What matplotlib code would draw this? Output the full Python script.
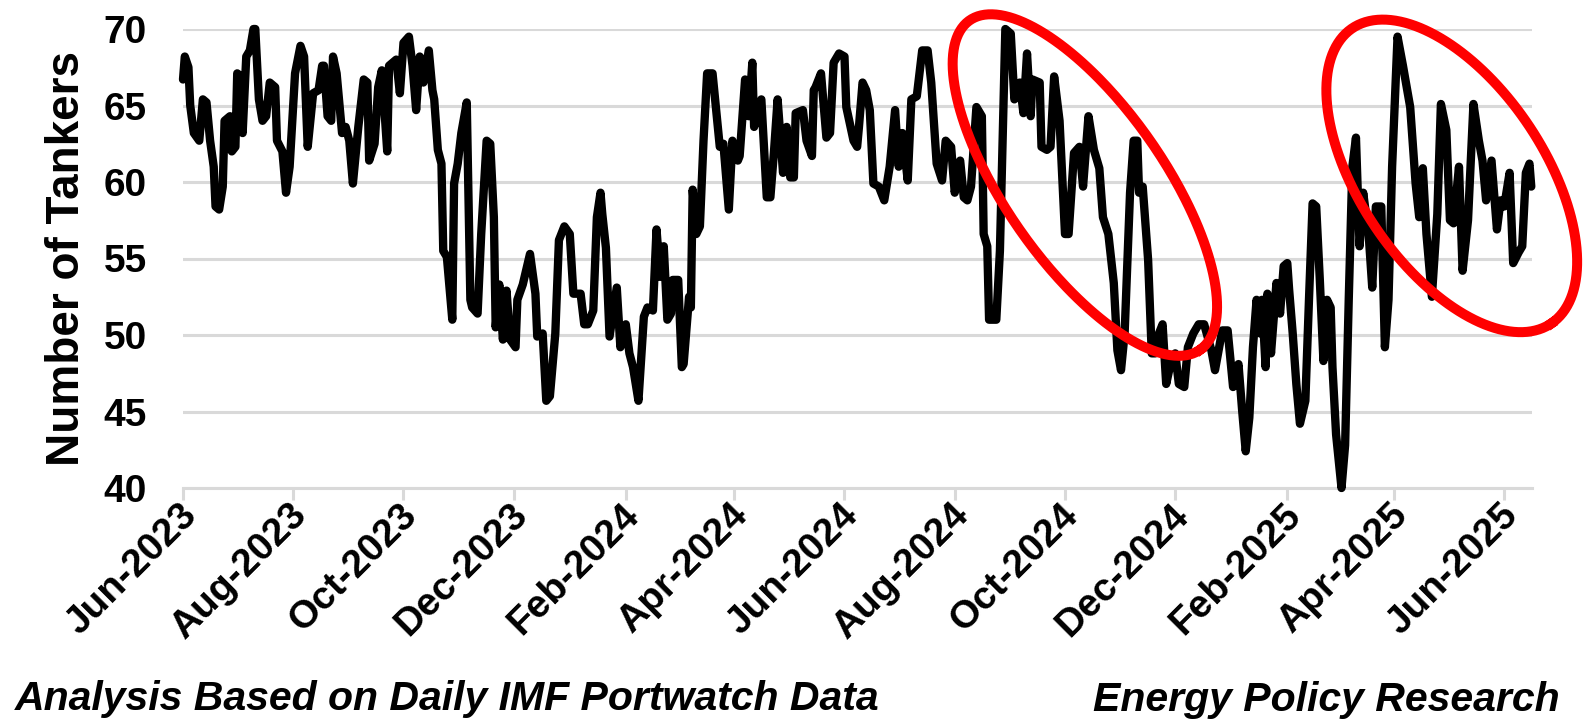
import matplotlib
matplotlib.use("Agg")
import matplotlib.dates as mdates
import matplotlib.pyplot as plt
import matplotlib.transforms as mtransforms
import numpy as np
import pandas as pd

plt.rcParams["font.family"] = ["Liberation Sans", "DejaVu Sans"]
plt.rcParams["font.weight"] = "bold"
plt.rcParams["axes.labelweight"] = "bold"

START = pd.Timestamp("2023-06-01")

# daily tanker counts (day offsets from 1 Jun 2023)
days = [
    0, 1, 3, 4, 6, 9, 11, 13, 15, 17, 18, 20, 22, 23, 26, 27, 29, 30, 32, 33,
    35, 37, 39, 40, 42, 44, 46, 48, 51, 52, 55, 57, 59, 62, 65, 67, 69, 72, 75, 77,
    78, 80, 82, 83, 85, 88, 90, 92, 94, 97, 100, 102, 103, 106, 108, 110, 113, 114, 118, 120,
    122,
    125, 127, 129, 131, 133, 136, 138, 139, 141, 143, 144, 146, 149, 150, 152, 154, 157, 159, 160, 163,
    165, 168, 170, 172, 173, 175, 177, 179, 181, 184, 185, 188, 192, 195, 196, 199, 201, 203, 206, 208,
    211, 214, 216, 220, 222, 224, 227, 229, 231, 232, 234, 236, 240, 242, 245, 247, 249, 252,
    255, 257, 260, 262, 264, 266, 268, 270, 271, 274, 276, 277, 280, 281, 282, 284, 286, 288, 290, 293,
    295, 297, 299, 302, 304, 307, 308, 311, 313, 315, 316, 320, 323, 325, 327, 329, 332, 334, 336, 338,
    339, 343, 345, 348, 349, 350, 353, 356, 358, 360, 363, 366, 367, 371, 373, 374, 376, 378,
    380, 382, 385, 388, 391, 394, 396, 398, 401, 403, 406, 409, 412, 414, 417, 420, 422, 425, 427, 430,
    432, 434, 436, 439, 442, 443, 445, 446, 450, 452, 455, 458, 460, 463, 465, 467, 469, 470, 474, 475,
    478, 480, 482, 485, 488, 490, 493, 496, 498,
    501, 504, 507, 509, 512, 515, 517, 519, 521, 524, 526, 528, 529, 531, 534, 536, 538, 540, 542, 544,
    546, 549, 551, 554, 556, 559, 562, 565, 569, 571, 573, 575, 578, 581, 584, 586, 588, 590, 592, 594,
    596, 597, 599, 600, 602, 605, 607, 609, 611, 612, 614, 616, 618, 621, 623, 625, 627, 629,
    631, 633, 635, 636, 638, 641, 643, 645, 647, 649, 651, 653, 656, 658, 660, 663, 665, 667, 669, 672,
    675, 679, 682, 684, 686, 688, 691, 694, 696, 699, 701, 703, 706, 708, 711, 714, 717, 719, 721, 724,
    727, 729, 731, 734, 736, 739, 741, 743, 745, 746,
]
tankers = [
    66.7, 68.2, 67.5, 65.0, 63.2, 62.7, 65.4, 65.2, 62.7, 61.0, 58.4, 58.2, 59.7, 64.0, 64.3, 62.0, 62.3, 67.1, 66.9, 63.2,
    68.2, 68.6, 70.0, 70.0, 65.4, 64.0, 64.3, 66.5, 66.2, 62.7, 62.0, 59.3, 61.0, 67.1, 68.9, 68.2, 62.3, 65.8, 66.0, 67.6,
    67.6, 64.3, 64.0, 68.2, 67.1, 63.2, 63.6, 62.7, 59.9, 63.6, 66.7, 66.5, 61.4, 62.5, 66.2, 67.3, 62.0, 67.6, 68.0, 65.8,
    69.1,
    69.5, 67.6, 64.7, 68.2, 66.5, 68.6, 66.0, 65.4, 62.1, 61.2, 55.5, 55.1, 51.0, 59.9, 61.2, 63.2, 65.2, 52.3, 51.8, 51.4,
    56.6, 62.7, 62.5, 57.7, 50.5, 53.3, 49.7, 52.9, 49.7, 49.2, 52.3, 53.3, 55.3, 52.7, 49.9, 50.1, 45.7, 46.0, 50.1, 56.2,
    57.1, 56.6, 52.7, 52.7, 50.7, 50.7, 51.6, 57.7, 59.3, 57.9, 55.7, 49.9, 53.1, 49.2, 50.7, 48.8, 47.9, 45.7,
    51.2, 51.8, 51.6, 56.9, 53.8, 55.8, 51.0, 51.4, 53.6, 53.6, 47.9, 48.1, 52.5, 51.8, 59.5, 56.6, 57.1, 62.7, 67.1, 67.1,
    64.7, 62.3, 62.5, 58.2, 62.7, 61.4, 61.7, 66.7, 64.3, 67.8, 63.6, 65.4, 59.0, 59.0, 62.0, 65.4, 60.6, 63.6, 60.3, 60.3,
    64.5, 64.7, 62.7, 61.7, 66.0, 66.2, 67.1, 62.9, 63.2, 67.8, 68.4, 68.2, 64.9, 62.7, 62.3, 63.6, 66.5, 66.0,
    64.7, 59.9, 59.7, 58.8, 61.0, 64.7, 61.0, 63.2, 60.1, 65.4, 65.6, 68.6, 68.6, 66.5, 61.2, 60.1, 62.7, 62.3, 59.3, 61.4,
    59.0, 58.8, 59.7, 64.9, 64.3, 56.6, 55.8, 51.0, 51.0, 55.5, 70.0, 69.7, 65.4, 66.5, 64.5, 68.4, 64.3, 66.7, 66.5, 62.3,
    62.1, 62.3, 66.9, 64.0, 56.6, 56.6, 61.9, 62.3, 59.7,
    64.3, 62.1, 60.9, 57.7, 56.6, 53.4, 49.0, 47.7, 50.1, 59.3, 62.7, 62.7, 59.3, 59.7, 54.9, 48.8, 48.8, 50.1, 50.7, 46.8,
    47.9, 48.8, 46.8, 46.6, 49.2, 50.1, 50.7, 50.7, 49.0, 47.7, 49.0, 50.3, 50.3, 46.6, 48.1, 45.1, 42.4, 44.6, 49.2, 52.3,
    50.1, 52.3, 47.9, 52.7, 48.8, 53.4, 51.4, 54.5, 54.7, 53.0, 50.1, 46.8, 44.2, 45.7, 52.3, 58.6, 58.4, 53.6,
    48.3, 52.3, 51.8, 47.9, 43.5, 40.0, 42.8, 52.3, 61.0, 62.9, 55.8, 59.3, 56.6, 53.1, 58.4, 58.4, 49.2, 52.3, 61.0, 69.5,
    67.6, 64.9, 59.9, 57.7, 60.9, 56.6, 52.5, 57.9, 65.1, 63.4, 57.5, 57.3, 61.0, 54.2, 57.5, 65.1, 62.7, 61.4, 58.8, 61.4,
    56.9, 58.8, 58.4, 60.6, 54.7, 55.4, 55.8, 60.6, 61.2, 59.7,
]
assert len(days) == len(tankers)

y_ticks = [40, 45, 50, 55, 60, 65, 70]
tick_months = [2, 4, 6, 8, 10, 12]

GRID = "#d9d9d9"


def draw_ring(ax, center_day, center_value, half_long, half_short, tilt):
    """Red outline ellipse around a stretch of the series.
    Sizes are in pixels, tilt in degrees clockwise."""
    centre = (mdates.date2num(START + pd.Timedelta(days=center_day)), center_value)
    cx, cy = ax.transData.transform(centre)
    t = np.linspace(0, 2 * np.pi, 300)
    th = np.deg2rad(-tilt)
    px = cx + half_long * np.cos(t) * np.cos(th) - half_short * np.sin(t) * np.sin(th)
    py = cy + half_long * np.cos(t) * np.sin(th) + half_short * np.sin(t) * np.cos(th)
    pts = ax.transAxes.inverted().transform(np.column_stack([px, py]))
    ax.plot(pts[:, 0], pts[:, 1], transform=ax.transAxes, color="#ff0000",
            lw=7.2, clip_on=False, zorder=4)


dates = START + pd.to_timedelta(days, unit="D")

fig = plt.figure(figsize=(15.83, 7.24), dpi=100)
ax = fig.add_axes([183 / 1583, 1 - 488 / 724, 1349 / 1583, 459 / 724])

ax.plot(dates, tankers, color="black", lw=6, solid_joinstyle="round",
        solid_capstyle="round", clip_on=False, zorder=3)

ax.set_ylim(40, 70)
ax.set_yticks(y_ticks)
ax.set_xlim(START, START + pd.Timedelta(days=746.4))
ax.xaxis.set_major_locator(mdates.MonthLocator(bymonth=tick_months))
ax.xaxis.set_major_formatter(mdates.DateFormatter("%b-%Y"))

ax.yaxis.grid(True, color=GRID, lw=2.2)
ax.set_axisbelow(True)
for side in ["top", "right", "left"]:
    ax.spines[side].set_visible(False)
ax.spines["bottom"].set_color(GRID)
ax.spines["bottom"].set_linewidth(2.2)

ax.tick_params(axis="x", direction="out", length=8.6, width=2.2, color=GRID,
               pad=7, labelsize=28)
ax.tick_params(axis="y", length=0, pad=26, labelsize=28)
# nudge the slanted month labels a little to the right, like the original
shift = mtransforms.ScaledTranslation(0.08, 0, fig.dpi_scale_trans)
for label in ax.get_xticklabels():
    label.set_rotation(45)
    label.set_ha("right")
    label.set_va("center")
    label.set_rotation_mode("anchor")
    label.set_transform(label.get_transform() + shift)

ax.set_ylabel("Number of Tankers", fontsize=33, fontweight="bold")
ax.yaxis.set_label_coords(-0.07, 0.5)

draw_ring(ax, 499, 59.8, 201, 79, 55)
draw_ring(ax, 702, 60.4, 178, 92, 56)

fig.text(15 / 1583, 1 - 710 / 724, "Analysis Based on Daily IMF Portwatch Data",
         fontsize=29.5, fontstyle="italic", ha="left", va="baseline")
fig.text(1560 / 1583, 1 - 711 / 724, "Energy Policy Research",
         fontsize=29.5, fontstyle="italic", ha="right", va="baseline")

fig.savefig("out.png", dpi=100)
